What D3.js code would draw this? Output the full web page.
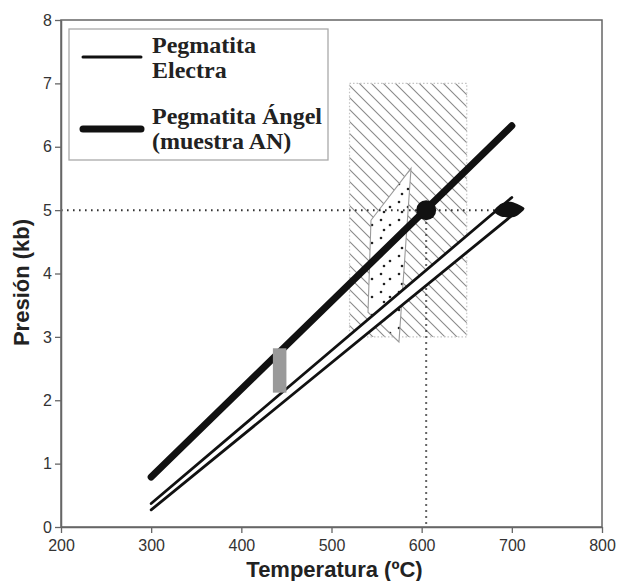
<!DOCTYPE html>
<html><head><meta charset="utf-8">
<script src="https://cdn.jsdelivr.net/npm/d3@7"></script>
<style>body{margin:0;background:#fff}svg{display:block}</style>
</head><body>
<svg id="c" width="620" height="581"></svg>
<script>
// ---- data ----
const xTicks = [200, 300, 400, 500, 600, 700, 800];
const yTicks = [0, 1, 2, 3, 4, 5, 6, 7, 8];
const angelLine = [[300, 0.79], [700, 6.33]];
const electraUpper = [[300, 0.37], [700, 5.2]];
const electraLower = [[300, 0.27], [710, 5.03]];
const electraTip = [[680, 4.98], [688, 5.1], [700, 5.13], [714, 5.03], [704, 4.9], [690, 4.89]];
const hatchBox = {t0: 520, t1: 650, p0: 3, p1: 7};
const stippleArea = [[543.8, 4.84], [588.2, 5.66], [574.8, 2.92], [540.5, 3.39]];
const grayBox = {t0: 435, t1: 450, p0: 2.12, p1: 2.82};
const keyPoint = [605, 5.0];
const hRefLine = [[200, 5.0], [683, 5.0]];
const vRefLine = [[605, 5.0], [605, 0]];
const legendItems = [
  {lines: ["Pegmatita", "Electra"], w: 3},
  {lines: ["Pegmatita Ángel", "(muestra AN)"], w: 7}
];
const xTitle = "Temperatura (ºC)";
const yTitle = "Presión (kb)";

// ---- layout ----
const L = 61, R = 602, T = 20, B = 527;
const x = d3.scaleLinear().domain([200, 800]).range([L, R]);
const y = d3.scaleLinear().domain([0, 8]).range([B, T]);
const svg = d3.select("#c");
const defs = svg.append("defs");

const hp = defs.append("pattern").attr("id", "hatch").attr("patternUnits", "userSpaceOnUse")
  .attr("width", 12).attr("height", 12);
hp.append("path").attr("d", "M-3,-3L15,15M-3,9L3,15M9,-3L15,3")
  .attr("stroke", "#8a8a8a").attr("stroke-width", 1.1);

const sp = defs.append("pattern").attr("id", "stip").attr("patternUnits", "userSpaceOnUse")
  .attr("width", 18).attr("height", 18);
sp.append("rect").attr("width", 18).attr("height", 18).attr("fill", "#fff");
[[3, 4], [12, 9], [6, 14]].forEach(d => sp.append("circle").attr("cx", d[0]).attr("cy", d[1]).attr("r", 1.3).attr("fill", "#222"));

const line = d3.line().x(d => x(d[0])).y(d => y(d[1]));

// hatched box
svg.append("rect")
  .attr("x", x(hatchBox.t0)).attr("y", y(hatchBox.p1))
  .attr("width", x(hatchBox.t1) - x(hatchBox.t0)).attr("height", y(hatchBox.p0) - y(hatchBox.p1))
  .attr("fill", "url(#hatch)").attr("stroke", "#c4c4c4").attr("stroke-width", 1.2)
  .attr("stroke-dasharray", "1.5,2");

// stippled area
svg.append("path").attr("d", line(stippleArea) + "Z")
  .attr("fill", "url(#stip)").attr("stroke", "#9a9a9a").attr("stroke-width", 1.1);

// reference dotted lines
[hRefLine, vRefLine].forEach(l => svg.append("path").attr("d", line(l))
  .attr("fill", "none").attr("stroke", "#333").attr("stroke-width", 2)
  .attr("stroke-dasharray", "1.6,4.4"));

// electra band (white between)
svg.append("path").attr("d", line([electraUpper[0], electraUpper[1], electraLower[1], electraLower[0]]) + "Z")
  .attr("fill", "#fff");
[electraUpper, electraLower].forEach(l => svg.append("path").attr("d", line(l))
  .attr("fill", "none").attr("stroke", "#111").attr("stroke-width", 2.8).attr("stroke-linecap", "round"));
svg.append("path").attr("d", d3.line().x(d => x(d[0])).y(d => y(d[1])).curve(d3.curveCardinalClosed.tension(0.3))(electraTip))
  .attr("fill", "#111");

// angel line
svg.append("path").attr("d", line(angelLine))
  .attr("fill", "none").attr("stroke", "#111").attr("stroke-width", 7).attr("stroke-linecap", "round");

// gray box
svg.append("rect")
  .attr("x", x(grayBox.t0)).attr("y", y(grayBox.p1))
  .attr("width", x(grayBox.t1) - x(grayBox.t0)).attr("height", y(grayBox.p0) - y(grayBox.p1))
  .attr("fill", "#9a9a9a");

// key point
svg.append("circle").attr("cx", x(keyPoint[0])).attr("cy", y(keyPoint[1])).attr("r", 10).attr("fill", "#111");

// frame
svg.append("rect").attr("x", L).attr("y", T).attr("width", R - L).attr("height", B - T)
  .attr("fill", "none").attr("stroke", "#666").attr("stroke-width", 1.5);

// axes
const xa = svg.append("g").attr("transform", `translate(0,${B})`)
  .call(d3.axisBottom(x).tickValues(xTicks).tickSize(6).tickSizeOuter(0).tickPadding(7));
const ya = svg.append("g").attr("transform", `translate(${L},0)`)
  .call(d3.axisLeft(y).tickValues(yTicks).tickSize(6).tickSizeOuter(0).tickPadding(3));
[xa, ya].forEach(a => {
  a.select(".domain").attr("stroke", "#666").attr("stroke-width", 1.5);
  a.selectAll(".tick line").attr("stroke", "#666").attr("stroke-width", 1.3);
  a.selectAll(".tick text").attr("fill", "#333").style("font-family", "Liberation Sans, Arial, sans-serif").style("font-size", "16px");
});

svg.append("text").attr("x", (L + R) / 2 + 3).attr("y", 577).attr("text-anchor", "middle")
  .style("font-family", "Liberation Sans, Arial, sans-serif").style("font-size", "22px").style("font-weight", "bold")
  .attr("fill", "#222").text(xTitle);
svg.append("text").attr("transform", `translate(29,${(T + B) / 2 + 9}) rotate(-90)`).attr("text-anchor", "middle")
  .style("font-family", "Liberation Sans, Arial, sans-serif").style("font-size", "22px").style("font-weight", "bold")
  .attr("fill", "#222").text(yTitle);

// legend
const lg = svg.append("g");
lg.append("rect").attr("x", 69).attr("y", 29).attr("width", 259).attr("height", 131)
  .attr("fill", "#fff").attr("stroke", "#aaa").attr("stroke-width", 1.3);
legendItems.forEach((it, i) => {
  const ly = [57, 129][i];
  lg.append("line").attr("x1", 83).attr("x2", 141).attr("y1", ly).attr("y2", ly)
    .attr("stroke", "#111").attr("stroke-width", it.w).attr("stroke-linecap", "round");
  it.lines.forEach((t, j) => lg.append("text").attr("x", 152).attr("y", [53, 124][i] + j * 25)
    .style("font-family", "Liberation Serif, Times New Roman, serif").style("font-size", "24px").style("font-weight", "bold")
    .attr("fill", "#222").text(t));
});
</script>
</body></html>
